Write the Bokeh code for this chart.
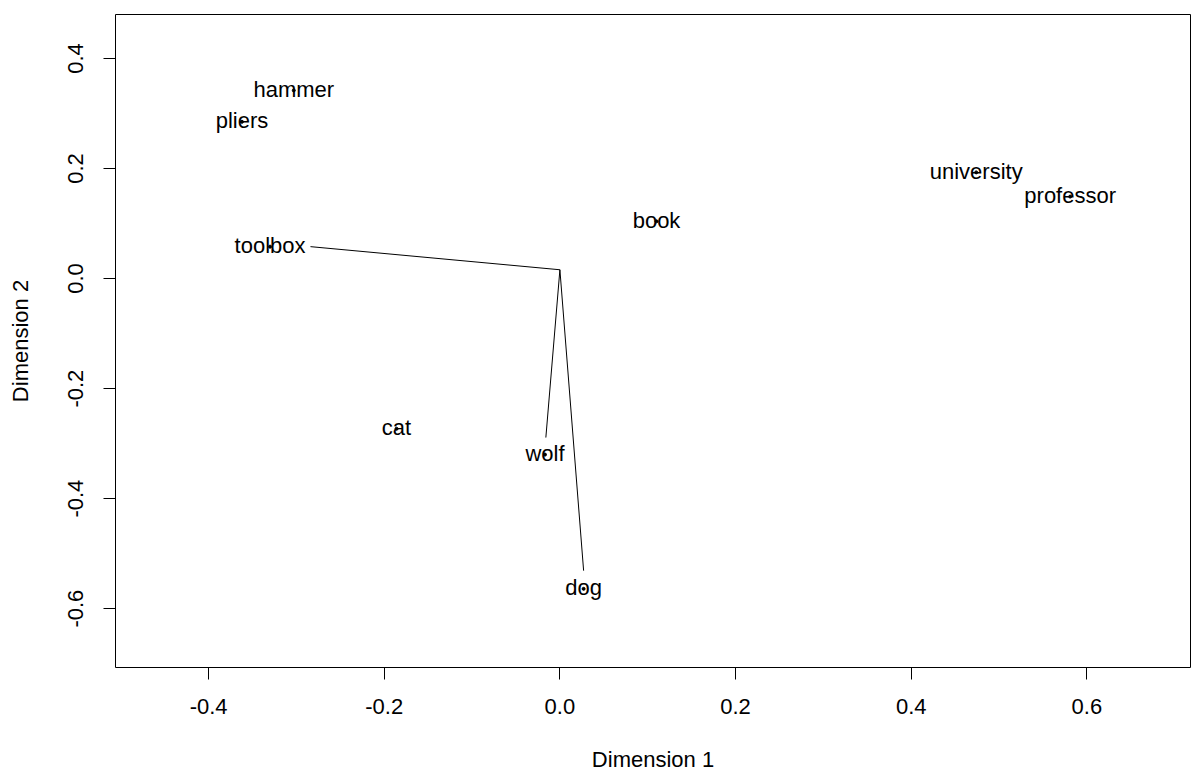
from bokeh.plotting import figure
from bokeh.models import Range1d, FixedTicker, PrintfTickFormatter, ColumnDataSource
from bokeh.core.properties import value
from bokeh.embed import file_html
from bokeh.resources import INLINE

words = ["hammer", "pliers", "toolbox", "cat", "wolf", "dog", "book", "university", "professor"]
dim1 = [-0.303, -0.362, -0.330, -0.186, -0.017, 0.027, 0.110, 0.474, 0.581]
dim2 = [0.342, 0.285, 0.058, -0.273, -0.320, -0.564, 0.104, 0.193, 0.149]

# projection lines from a common vertex
line_x0 = [0.0, 0.0, 0.0]
line_y0 = [0.016, 0.016, 0.016]
line_x1 = [-0.284, -0.016, 0.027]
line_y1 = [0.058, -0.289, -0.531]

x_ticks = [-0.4, -0.2, 0.0, 0.2, 0.4, 0.6]
y_ticks = [-0.6, -0.4, -0.2, 0.0, 0.2, 0.4]

FONT = "Liberation Sans"

p = figure(width=1191, height=774, output_backend="svg", toolbar_location=None,
           x_range=Range1d(-0.506, 0.718), y_range=Range1d(-0.707, 0.480),
           min_border_left=115, min_border_right=1, min_border_top=14, min_border_bottom=107)
p.grid.visible = False
p.outline_line_color = "black"
p.outline_line_width = 1
p.background_fill_color = "white"
p.border_fill_color = "white"

src = ColumnDataSource(dict(x=dim1, y=dim2, w=words))
p.segment(x0=line_x0, y0=line_y0, x1=line_x1, y1=line_y1, line_color="black", line_width=1)
p.scatter("x", "y", source=src, size=3, color="black")
p.text("x", "y", text="w", source=src, text_align="center", text_baseline="middle",
       text_font=value(FONT), text_font_size="22px", text_color="black", y_offset=-1)

for ax, ticks in ((p.xaxis[0], x_ticks), (p.yaxis[0], y_ticks)):
    ax.ticker = FixedTicker(ticks=ticks)
    ax.formatter = PrintfTickFormatter(format="%.1f")
    ax.axis_line_color = None
    ax.major_tick_in = 0
    ax.major_tick_out = 12
    ax.major_tick_line_color = "black"
    ax.minor_tick_line_color = None
    ax.major_label_text_font = FONT
    ax.major_label_text_font_size = "22px"
    ax.major_label_text_color = "black"
    ax.axis_label_text_font = FONT
    ax.axis_label_text_font_size = "22px"
    ax.axis_label_text_font_style = "normal"
    ax.axis_label_text_color = "black"

p.xaxis[0].axis_label = "Dimension 1"
p.yaxis[0].axis_label = "Dimension 2"
p.xaxis[0].major_label_standoff = 19
p.xaxis[0].axis_label_standoff = 30
p.yaxis[0].major_label_orientation = "vertical"
p.yaxis[0].major_label_standoff = 20
p.yaxis[0].axis_label_standoff = 33

open("out.html", "w").write(file_html(p, INLINE))
